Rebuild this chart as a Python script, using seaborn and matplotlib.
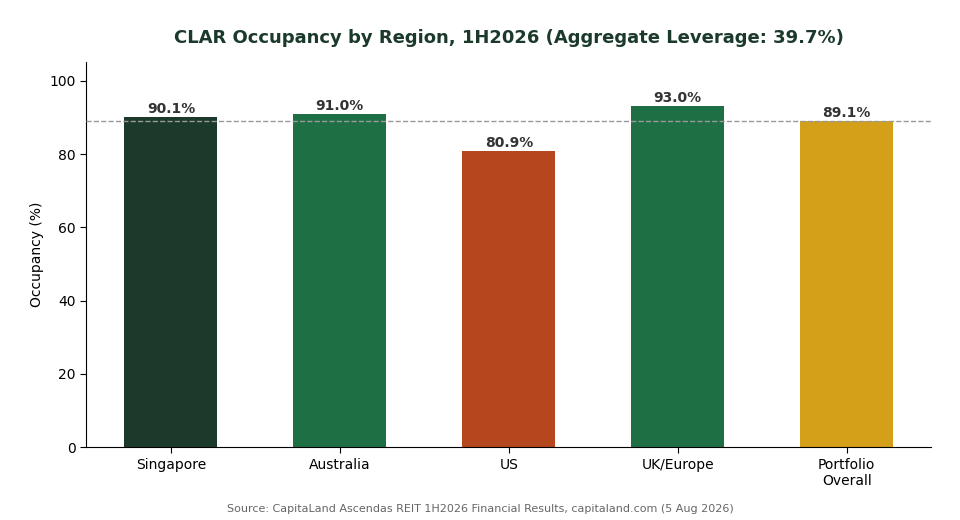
import pandas as pd
import seaborn as sns
import matplotlib.pyplot as plt

regions = ['Singapore', 'Australia', 'US', 'UK/Europe', 'Portfolio\nOverall']
occupancy = [90.1, 91.0, 80.9, 93.0, 89.1]
bar_colors = ['#1b3a2b', '#1f6f45', '#b5471f', '#1f6f45', '#d4a01a']
portfolio_avg = 89.1

df = pd.DataFrame({'region': regions, 'occupancy': occupancy})

sns.set_style('white')
fig, ax = plt.subplots(figsize=(9.6, 5.2), dpi=100)
fig.subplots_adjust(left=0.09, right=0.97, top=0.88, bottom=0.14)

sns.barplot(df, x='region', y='occupancy', hue='region', palette=bar_colors,
            width=0.55, legend=False, ax=ax, saturation=1, linewidth=0)

# value labels on top of the bars
for i, v in enumerate(occupancy):
    ax.text(i, v + 0.3, f'{v:.1f}%', ha='center', va='bottom',
            fontsize=10, fontweight='bold', color='#333333')

# portfolio average line, drawn over the bars
ax.axhline(portfolio_avg, color='#999999', linestyle='--', linewidth=1, zorder=3)

ax.set_ylim(0, 105)
ax.set_xlim(-0.5, 4.5)
ax.set_xlabel('')
ax.set_ylabel('Occupancy (%)', fontsize=10, color='black')
ax.tick_params(axis='both', labelsize=10, length=4, left=True, bottom=True,
               labelcolor='black', color='black')
for s in ax.spines.values():
    s.set_color('black')
sns.despine(ax=ax)

ax.set_title('CLAR Occupancy by Region, 1H2026 (Aggregate Leverage: 39.7%)',
             fontsize=13, fontweight='bold', color='#1b3a2b', pad=14)

fig.text(0.5, 0.015, 'Source: CapitaLand Ascendas REIT 1H2026 Financial Results, capitaland.com (5 Aug 2026)',
         ha='center', fontsize=8, color='#666666')

plt.savefig('out.png', dpi=100)
